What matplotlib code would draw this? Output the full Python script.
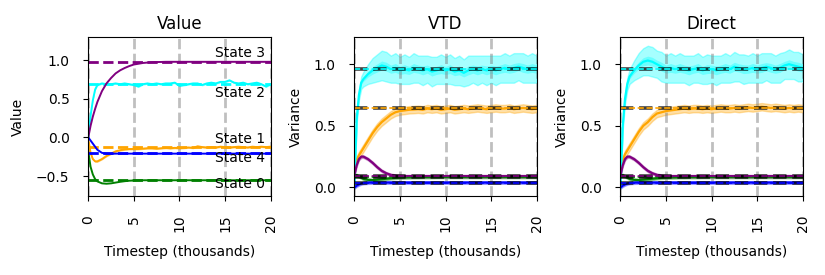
import matplotlib
matplotlib.use("Agg")
import matplotlib.pyplot as plt
import numpy as np

# timestep grid (thousands)
timesteps = [0, 0.25, 0.5, 0.75, 1, 1.5, 2, 2.5, 3, 3.5, 4, 4.5, 5, 5.5, 6, 6.5,
             7, 7.5, 8, 8.5, 9, 9.5, 10, 10.5, 11, 11.5, 12, 12.5, 13, 13.5, 14,
             14.5, 15, 15.5, 16, 16.5, 17, 17.5, 18, 18.5, 19, 19.5, 20]

state_names = ["State 0", "State 1", "State 2", "State 3", "State 4"]
state_colors = ["green", "orange", "cyan", "purple", "blue"]

# ---- Value panel ----
true_value = [-0.55, -0.13, 0.69, 0.98, -0.20]
value_s0 = [-0.18, -0.38, -0.48, -0.54, -0.57, -0.595, -0.60, -0.595, -0.585, -0.575,
            -0.567, -0.561, -0.558, -0.556, -0.555, -0.555, -0.555, -0.555, -0.555,
            -0.555, -0.555, -0.555, -0.555, -0.555, -0.555, -0.555, -0.555, -0.555,
            -0.555, -0.555, -0.555, -0.555, -0.555, -0.555, -0.555, -0.555, -0.555,
            -0.555, -0.555, -0.555, -0.555, -0.555, -0.555]
value_s1 = [-0.02, -0.20, -0.28, -0.31, -0.31, -0.28, -0.24, -0.21, -0.18, -0.165,
            -0.155, -0.15, -0.15, -0.15, -0.145, -0.14, -0.14, -0.145, -0.14, -0.135,
            -0.14, -0.135, -0.14, -0.135, -0.13, -0.135, -0.115, -0.125, -0.13, -0.125,
            -0.13, -0.12, -0.125, -0.13, -0.125, -0.12, -0.125, -0.13, -0.12, -0.125,
            -0.12, -0.125, -0.12]
value_s2 = [0.0, 0.28, 0.48, 0.62, 0.68, 0.70, 0.69, 0.69, 0.70, 0.69, 0.70, 0.69,
            0.68, 0.66, 0.69, 0.70, 0.69, 0.70, 0.69, 0.70, 0.70, 0.71, 0.67, 0.68,
            0.69, 0.70, 0.70, 0.68, 0.70, 0.71, 0.70, 0.72, 0.72, 0.74, 0.71, 0.70,
            0.71, 0.69, 0.70, 0.71, 0.69, 0.66, 0.69]
value_s3 = [0.0, 0.15, 0.27, 0.37, 0.46, 0.60, 0.70, 0.77, 0.83, 0.87, 0.90, 0.925,
            0.945, 0.955, 0.965, 0.97, 0.975, 0.977, 0.978, 0.98, 0.98, 0.98, 0.98,
            0.98, 0.98, 0.98, 0.98, 0.98, 0.98, 0.98, 0.98, 0.98, 0.98, 0.98, 0.98,
            0.98, 0.98, 0.98, 0.98, 0.98, 0.98, 0.98, 0.98]
value_s4 = [0.0, -0.04, -0.08, -0.12, -0.16, -0.20, -0.21, -0.212, -0.21, -0.21, -0.21,
            -0.21, -0.21, -0.21, -0.21, -0.21, -0.21, -0.21, -0.21, -0.21, -0.21, -0.21,
            -0.21, -0.21, -0.21, -0.21, -0.21, -0.21, -0.21, -0.21, -0.21, -0.21, -0.21,
            -0.21, -0.21, -0.21, -0.21, -0.21, -0.21, -0.21, -0.21, -0.21, -0.21]
label_y = [-0.60, -0.02, 0.57, 1.09, -0.265]

# ---- Variance panels ----
true_var = [0.085, 0.645, 0.965, 0.09, 0.04]

vtd_s0 = [0.10, 0.10, 0.09, 0.08, 0.07, 0.062, 0.060, 0.063, 0.067, 0.071, 0.075, 0.078,
          0.080, 0.081, 0.082, 0.083, 0.083, 0.084, 0.084, 0.084, 0.085, 0.085, 0.085,
          0.085, 0.085, 0.085, 0.085, 0.085, 0.085, 0.085, 0.085, 0.085, 0.085, 0.085,
          0.085, 0.085, 0.085, 0.085, 0.085, 0.085, 0.085, 0.085, 0.085]
vtd_s1 = [0.18, 0.22, 0.26, 0.29, 0.32, 0.38, 0.44, 0.49, 0.53, 0.56, 0.59, 0.61, 0.62,
          0.625, 0.63, 0.632, 0.635, 0.63, 0.64, 0.635, 0.64, 0.63, 0.635, 0.64, 0.63,
          0.635, 0.64, 0.635, 0.64, 0.645, 0.64, 0.635, 0.64, 0.645, 0.64, 0.64, 0.645,
          0.635, 0.64, 0.645, 0.64, 0.635, 0.64]
vtd_s2 = [0.0, 0.55, 0.75, 0.85, 0.88, 0.92, 0.95, 0.97, 0.99, 0.98, 0.96, 0.97, 0.95,
          0.96, 0.95, 0.97, 0.96, 0.95, 0.96, 0.94, 0.95, 0.96, 0.95, 0.96, 0.94, 0.95,
          0.93, 0.95, 0.96, 0.95, 0.96, 0.95, 0.96, 0.95, 0.96, 0.97, 0.96, 0.97, 0.98,
          0.97, 0.96, 0.97, 0.96]
vtd_s3 = [0.10, 0.18, 0.23, 0.25, 0.25, 0.23, 0.20, 0.165, 0.135, 0.115, 0.102, 0.096,
          0.093, 0.092, 0.092, 0.092, 0.092, 0.092, 0.092, 0.092, 0.092, 0.092, 0.092,
          0.092, 0.092, 0.092, 0.092, 0.092, 0.092, 0.092, 0.092, 0.092, 0.092, 0.092,
          0.092, 0.092, 0.092, 0.092, 0.092, 0.092, 0.092, 0.092, 0.092]
vtd_s4 = [0.0, 0.015, 0.025, 0.032, 0.036, 0.039, 0.040, 0.040, 0.040, 0.040, 0.040,
          0.040, 0.040, 0.040, 0.040, 0.040, 0.040, 0.040, 0.040, 0.040, 0.040, 0.040,
          0.040, 0.040, 0.040, 0.040, 0.040, 0.040, 0.040, 0.040, 0.040, 0.040, 0.040,
          0.040, 0.040, 0.040, 0.040, 0.040, 0.040, 0.040, 0.040, 0.040, 0.040]
vtd_s2_spread = [0.0, 0.03, 0.04, 0.05, 0.06, 0.08, 0.10, 0.11, 0.12, 0.12, 0.11, 0.12,
                 0.11, 0.12, 0.11, 0.12, 0.11, 0.12, 0.11, 0.12, 0.11, 0.12, 0.11, 0.12,
                 0.11, 0.12, 0.11, 0.12, 0.11, 0.12, 0.11, 0.12, 0.11, 0.12, 0.11, 0.12,
                 0.11, 0.12, 0.11, 0.12, 0.11, 0.12, 0.11]

direct_s0 = vtd_s0
direct_s1 = [0.17, 0.22, 0.27, 0.30, 0.33, 0.39, 0.45, 0.50, 0.53, 0.57, 0.60, 0.61,
             0.62, 0.625, 0.63, 0.635, 0.64, 0.635, 0.64, 0.64, 0.635, 0.64, 0.635,
             0.64, 0.645, 0.64, 0.64, 0.645, 0.64, 0.645, 0.65, 0.645, 0.65, 0.655,
             0.65, 0.645, 0.65, 0.645, 0.64, 0.645, 0.64, 0.645, 0.64]
direct_s2 = [0.0, 0.50, 0.72, 0.84, 0.90, 0.95, 0.99, 1.02, 1.03, 1.02, 1.00, 0.98,
             0.96, 0.97, 0.96, 0.97, 0.96, 0.95, 0.96, 0.97, 0.95, 0.96, 0.96, 0.95,
             0.96, 0.97, 0.96, 0.98, 0.97, 0.96, 0.96, 0.97, 0.96, 0.97, 0.98, 0.97,
             0.96, 0.97, 0.99, 1.00, 0.99, 0.98, 0.97]
direct_s3 = vtd_s3
direct_s4 = vtd_s4
direct_s2_spread = vtd_s2_spread

small_spread = [0.01, 0.03, 0.03, 0.01, 0.01]

t = np.array(timesteps)

fig, axes = plt.subplots(1, 3, figsize=(8.25, 2.75), dpi=100)
fig.subplots_adjust(left=0.107, right=0.973, top=0.865, bottom=0.287, wspace=0.46)

# value panel
ax = axes[0]
value_series = [value_s0, value_s1, value_s2, value_s3, value_s4]
for i, (vals, col) in enumerate(zip(value_series, state_colors)):
    ax.axhline(true_value[i], color=col, ls="--", lw=2)
    v = np.array(vals)
    if i in (1, 2):
        ax.fill_between(t, v - 0.012, v + 0.012, color=col, alpha=0.5, lw=0)
    ax.plot(t, v, color=col, lw=1.4)
    ax.text(19.4, label_y[i], state_names[i], ha="right", va="center", fontsize=10)
ax.set_ylim(-0.76, 1.30)
ax.set_yticks([-0.5, 0.0, 0.5, 1.0])
ax.set_ylabel("Value", labelpad=8)
ax.set_title("Value", fontsize=12)

# variance panels
panels = [
    ("VTD", [vtd_s0, vtd_s1, vtd_s2, vtd_s3, vtd_s4], vtd_s2_spread),
    ("Direct", [direct_s0, direct_s1, direct_s2, direct_s3, direct_s4], direct_s2_spread),
]
for ax, (title, series, cyan_spread) in zip(axes[1:], panels):
    for i, (vals, col) in enumerate(zip(series, state_colors)):
        v = np.array(vals)
        spread = np.array(cyan_spread) if i == 2 else small_spread[i]
        ax.fill_between(t, v - spread, v + spread, color=col, alpha=0.35, lw=1)
        if i == 2:
            ax.fill_between(t, v - 0.3 * spread, v + 0.3 * spread, color=col, alpha=0.35, lw=0)
        ax.plot(t, v, color=col, lw=1.6)
    for i, col in enumerate(state_colors):
        ax.axhline(true_var[i], color="black", ls="--", lw=2.6, alpha=0.75)
        ax.axhline(true_var[i], color=col, ls="--", lw=1.2)
    ax.set_ylim(-0.07, 1.22)
    ax.set_yticks([0.0, 0.5, 1.0])
    ax.set_ylabel("Variance", labelpad=8)
    ax.set_title(title, fontsize=12)

for ax in axes:
    ax.set_xlim(0, 20)
    ax.set_xticks([0, 5, 10, 15, 20])
    ax.tick_params(axis="both", pad=10)
    ax.tick_params(axis="x", labelrotation=90)
    ax.grid(axis="x", color="gray", ls="--", lw=2, alpha=0.5)
    ax.set_xlabel("Timestep (thousands)", labelpad=9)

fig.savefig("out.png")
